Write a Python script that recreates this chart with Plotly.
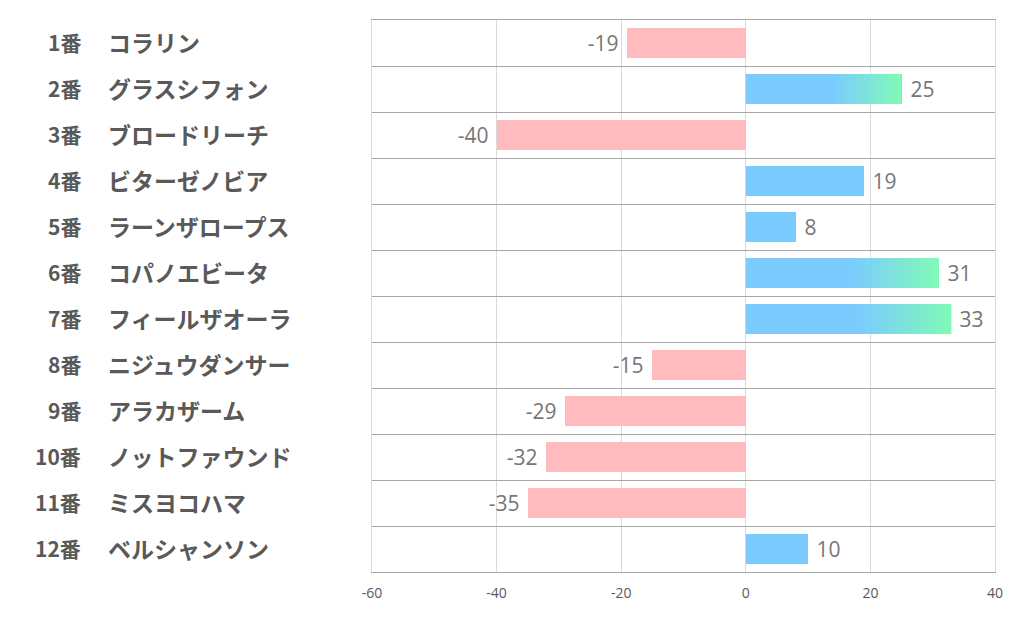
import plotly.graph_objects as go

numbers = ["1番", "2番", "3番", "4番", "5番", "6番", "7番", "8番", "9番", "10番", "11番", "12番"]
names = ["コラリン", "グラスシフォン", "ブロードリーチ", "ビターゼノビア", "ラーンザロープス", "コパノエビータ",
         "フィールザオーラ", "ニジュウダンサー", "アラカザーム", "ノットファウンド", "ミスヨコハマ", "ベルシャンソン"]
values = [-19, 25, -40, 19, 8, 31, 33, -15, -29, -32, -35, 10]
x_ticks = [-60, -40, -20, 0, 20, 40]

BLUE = "#7BCBFF"
GREEN = "#80FBB6"
PINK = "#FFBBBD"
BAR_W = 0.65

idx = list(range(len(values)))
colors = [BLUE if v >= 0 else PINK for v in values]
labels = [f" {v}" if v >= 0 else f"{v} " for v in values]

fig = go.Figure()
fig.add_trace(go.Bar(
    x=values, y=idx, orientation="h", width=BAR_W,
    marker=dict(color=colors, line=dict(width=0)),
    text=labels, textposition="outside",
    textfont=dict(family="Open Sans, Noto Sans", size=21, color="#767676"),
    cliponaxis=False, hoverinfo="skip", showlegend=False,
))

# gradient overlay for the longer positive bars
for i, v in zip(idx, values):
    if v > 20:
        y0, y1 = i - BAR_W / 2, i + BAR_W / 2
        fig.add_trace(go.Scatter(
            x=[0, v, v, 0, 0], y=[y0, y0, y1, y1, y0],
            mode="lines", fill="toself", line=dict(width=0),
            fillgradient=dict(type="horizontal", start=0, stop=v,
                              colorscale=[[0, BLUE], [0.55, BLUE], [1, GREEN]]),
            hoverinfo="skip", showlegend=False,
        ))

L, R, T, B = 372, 27, 20, 54
W, H = 1022, 626
pw = W - L - R

def paper_x(px):
    return (px - L) / pw

for i, (n, nm) in enumerate(zip(numbers, names)):
    fig.add_annotation(x=paper_x(83), xref="paper", y=i, yref="y", text=f"<b>{n}</b>",
                       xanchor="right", showarrow=False, yshift=1,
                       font=dict(family="Noto Sans CJK JP", size=21, color="#595959"))
    fig.add_annotation(x=paper_x(106), xref="paper", y=i, yref="y", text=nm,
                       xanchor="left", showarrow=False, yshift=1,
                       font=dict(family="Noto Sans CJK JP", size=23, color="#595959", weight=600))

fig.update_layout(
    width=W, height=H, margin=dict(l=L, r=R, t=T, b=B),
    plot_bgcolor="white", paper_bgcolor="white", bargap=0,
    xaxis=dict(range=[x_ticks[0], x_ticks[-1]], tickvals=x_ticks, ticktext=[str(t) for t in x_ticks],
               showgrid=True, gridcolor="#D9D9D9", gridwidth=1, zeroline=False,
               showline=True, mirror=True, linecolor="#A6A6A6", linewidth=1,
               tickfont=dict(family="Open Sans, Noto Sans", size=14, color="#595959"),
               ticks="", ticklabelstandoff=8, fixedrange=True),
    yaxis=dict(range=[len(values) - 0.5, -0.5], tickvals=[i + 0.5 for i in idx[:-1]],
               showticklabels=False, showgrid=True, gridcolor="#A6A6A6", gridwidth=1,
               zeroline=False, showline=True, mirror=True, linecolor="#D9D9D9", linewidth=1,
               ticks="", fixedrange=True),
)

fig.write_html("out.html", config={"displayModeBar": False},
               post_script="document.body.style.margin='0';")
